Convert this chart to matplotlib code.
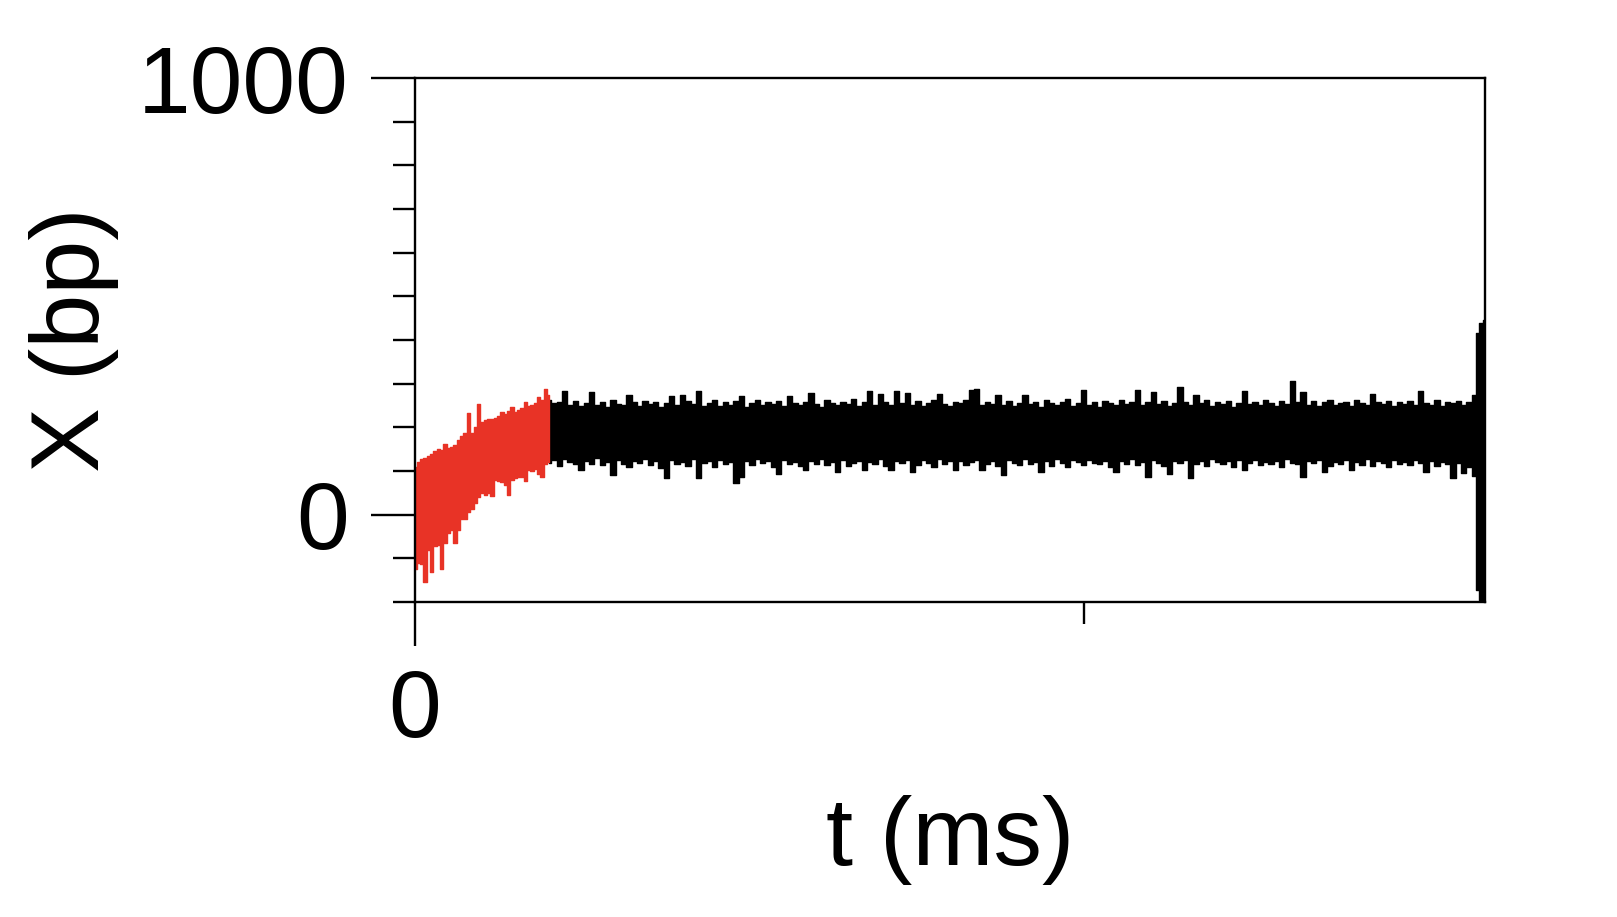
import numpy as np
import matplotlib.pyplot as plt

plt.rcParams['font.family'] = ['Liberation Sans', 'DejaVu Sans']

# red part of the trace (first ms), envelope of the fast noise
red_t = np.arange(0, 1.0001, 0.025)
red_hi = [110, 120, 128, 130, 134, 140, 146, 150, 148, 162,
          152, 154, 160, 172, 180, 186, 233, 188, 200, 254,
          212, 216, 220, 218, 222, 226, 235, 230, 238, 246,
          236, 240, 244, 258, 248, 250, 256, 269, 262, 288, 273]
red_lo = [-125, -110, -114, -155, -80, -132, -72, -70, -125, -64,
          -42, -36, -64, -34, -10, -11, 5, 12, 27, 40,
          49, 45, 50, 42, 80, 76, 74, 68, 45, 80,
          84, 87, 86, 76, 102, 100, 104, 92, 87, 117, 121]

# black part, 1 ms to the end
black_hi = [262, 255, 258, 283, 250, 260, 248, 256, 282, 252,
            259, 247, 263, 254, 250, 275, 257, 249, 261, 253,
            258, 246, 255, 272, 251, 275, 260, 254, 283, 249,
            256, 262, 248, 258, 252, 260, 272, 247, 255, 263,
            250, 257, 253, 261, 248, 272, 256, 251, 259, 278,
            254, 247, 262, 256, 250, 258, 253, 264, 249, 257,
            283, 252, 277, 258, 250, 283, 255, 278, 251, 260,
            248, 256, 262, 277, 253, 249, 259, 255, 263, 286,
            288, 251, 257, 254, 275, 250, 261, 248, 256, 275,
            253, 259, 247, 262, 255, 250, 258, 264, 249, 256,
            286, 252, 259, 247, 261, 255, 250, 263, 254, 258,
            286, 251, 257, 280, 253, 260, 248, 255, 292, 257,
            250, 275, 256, 262, 249, 258, 253, 261, 247, 255,
            283, 254, 259, 250, 263, 256, 248, 261, 254, 305,
            258, 280, 252, 260, 249, 257, 263, 251, 256, 259,
            248, 262, 255, 250, 277, 257, 253, 261, 249, 258,
            254, 260, 250, 284, 256, 252, 263, 248, 257, 255,
            261, 250, 258, 275]
black_lo = [118, 125, 112, 128, 120, 115, 102, 124, 117, 130,
            113, 121, 91, 126, 116, 110, 123, 119, 127, 114,
            122, 108, 83, 125, 117, 121, 112, 128, 83, 119,
            124, 110, 126, 115, 120, 72, 87, 123, 113, 127,
            118, 122, 109, 94, 125, 116, 121, 111, 102, 124,
            117, 128, 113, 120, 98, 126, 111, 119, 124, 102,
            121, 115, 127, 112, 102, 123, 118, 126, 98, 114,
            125, 119, 110, 127, 116, 122, 102, 124, 113, 120,
            126, 102, 117, 123, 111, 91, 125, 119, 114, 128,
            116, 121, 98, 124, 112, 127, 118, 110, 125, 120,
            113, 126, 119, 115, 122, 110, 98, 124, 117, 128,
            114, 121, 87, 125, 118, 111, 94, 123, 119, 126,
            83, 117, 124, 112, 127, 120, 115, 122, 109, 125,
            102, 118, 126, 113, 121, 116, 124, 110, 127, 119,
            115, 87, 123, 118, 125, 98, 112, 121, 117, 126,
            102, 120, 114, 127, 111, 123, 118, 109, 125, 116,
            121, 113, 126, 119, 98, 124, 112, 120, 117, 83,
            118, 96, 110, 88]
# jump at the very end
end_t = [7.94, 7.97, 8.00]
end_hi = [415, 440, 445]
end_lo = [-172, -195, -210]

black_t = np.concatenate([1.0 + 0.04 * np.arange(len(black_hi)), end_t])
black_hi = black_hi + end_hi
black_lo = black_lo + end_lo

fig = plt.figure(figsize=(16.17, 9.17), dpi=100)
ax = fig.add_axes([415/1617, 1-602/917, 1070/1617, 524/917])

ax.fill_between(black_t, black_lo, black_hi, step='mid', color='black', lw=1.0)
ax.fill_between(red_t, red_lo, red_hi, step='mid', color='#e83326', lw=1.0)

ax.set_xlim(0, 8)
ax.set_ylim(-200, 1000)
ax.set_xticks([0])
ax.set_xticks([5], minor=True)
ax.set_yticks([0, 1000])
ax.set_yticks(np.arange(-200, 1001, 100), minor=True)
ax.set_xticklabels(['0'])
ax.set_yticklabels(['0', '1000'])

for s in ax.spines.values():
    s.set_linewidth(1.7)
ax.tick_params(which='major', length=31.7, width=1.7, labelsize=68, pad=16)
ax.tick_params(which='minor', length=15.8, width=1.7)

ax.set_xlabel('t (ms)', fontsize=70, va='center')
ax.xaxis.set_label_coords(0.5, -0.454)
ax.set_ylabel('X (bp)', fontsize=70, va='center')
ax.yaxis.set_label_coords(-0.319, 0.5)

plt.savefig('out.png', dpi=100)
